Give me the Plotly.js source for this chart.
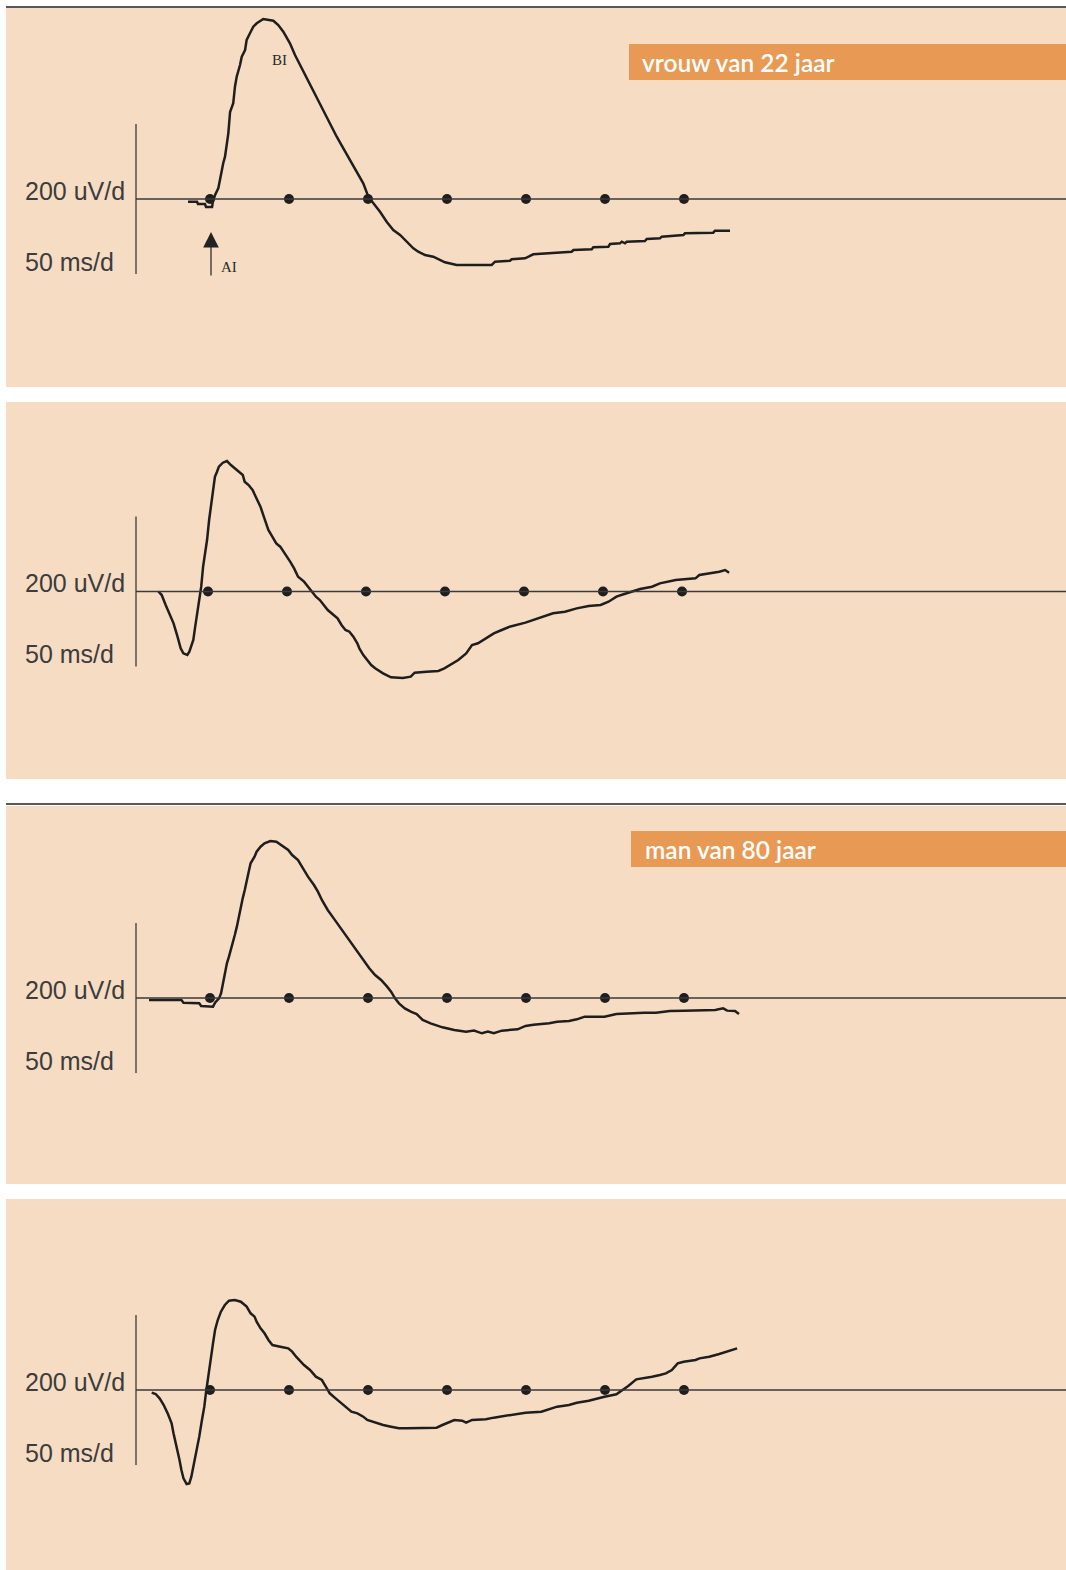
<!DOCTYPE html>
<html>
<head>
<meta charset="utf-8">
<script src="https://cdn.plot.ly/plotly-3.0.1.min.js"></script>
<style>
  html, body { margin: 0; padding: 0; background: #ffffff; }
  #chart { width: 1066px; height: 1570px; }
</style>
</head>
<body>
<div id="chart"></div>
<script>
// ---------- DATA (time in ms after the first marker, amplitude in uV) ----------
const dotTimes = [0, 50, 100, 150, 200, 250, 300];
const dotValues = [0, 0, 0, 0, 0, 0, 0];

const scaleAmplitude = "200 uV/d";
const scaleTime = "50 ms/d";
const headerWoman = "vrouw van 22 jaar";
const headerMan = "man van 80 jaar";
const markA = "AI";
const markB = "BI";

// panel 1: woman, 22 years
const t1 = [-13.9,-8.2,-7.6,-3.2,-2.5,1.3,1.9,3.2,5.3,7.4,8.4,9.5,10.6,11.6,12.7,14.7,15.8,16.9,19.0,20.1,22.2,23.2,25.3,27.4,29.6,33.7,40.1,43.2,46.4,50.6,53.8,57.0,60.1,63.3,67.5,71.7,75.9,80.2,84.4,88.6,92.8,97.0,100.2,103.4,107.6,111.8,116.0,120.3,124.5,128.7,131.8,136.1,141.3,145.6,148.7,156.1,178.3,180.4,189.9,190.9,199.4,204.6,215.2,228.9,230.0,241.6,242.6,252.1,253.2,259.5,260.6,262.7,263.7,275.3,276.4,284.8,285.9,299.6,300.6,318.5,319.6,329.1];
const v1 = [-6.8,-6.8,-12.7,-12.7,-20.3,-20.3,-5.1,10.1,27.8,73.4,91.1,107.1,132.4,166.3,220.3,242.3,284.3,309.6,339.2,360.2,377.2,402.8,419.5,436.2,444.8,455.7,451.4,440.5,423.5,394.2,364.6,339.2,313.9,288.6,259.0,225.3,191.6,157.7,128.4,98.7,69.1,39.7,5.8,-10.9,-32.2,-57.5,-78.5,-91.1,-108.1,-124.8,-133.4,-141.8,-146.1,-154.4,-160.3,-167.1,-167.1,-158.7,-156.2,-152.7,-150.1,-140.0,-137.5,-133.4,-129.1,-127.3,-122.3,-120.8,-113.9,-112.2,-108.1,-112.2,-108.1,-106.3,-101.3,-99.5,-95.4,-91.1,-86.8,-85.3,-80.3,-80.3];

// panel 2: woman, 22 years (second recording)
const t2 = [-31.4,-29.3,-26.8,-24.3,-21.8,-19.3,-17.3,-15.6,-13.1,-11.8,-9.3,-8.1,-6.8,-5.6,-4.8,-4.3,-3.1,-1.8,-0.6,0.7,1.9,3.2,4.4,5.7,6.9,9.4,12.0,14.5,18.2,22.0,23.2,25.7,28.2,30.7,33.2,35.7,38.2,40.7,43.2,45.7,49.5,52.0,54.5,57.0,60.8,63.3,65.8,68.3,70.8,73.3,75.8,79.5,82.0,84.5,87.0,89.5,92.0,94.5,95.8,98.3,100.8,103.3,105.8,110.8,115.8,123.3,128.3,130.8,138.3,145.8,149.6,153.4,158.4,163.4,167.1,170.9,175.9,180.9,185.9,190.9,200.9,205.9,213.4,218.4,225.9,233.4,240.9,248.5,253.5,258.5,263.5,268.5,273.5,281.0,286.0,296.0,308.5,311.0,318.6,323.6,327.3,329.8];
const v2 = [0,-8.9,-34.2,-55.3,-80.6,-114.4,-143.9,-156.6,-160.8,-152.4,-122.8,-89.1,-55.3,-13.1,-0.5,12.2,62.8,96.6,130.3,181.0,214.7,256.9,290.7,303.3,316.0,326.1,330.3,320.2,307.5,294.9,278.0,269.6,256.9,235.8,214.7,185.2,155.7,138.8,121.9,113.5,92.4,75.5,58.6,37.5,24.9,12.2,-0.5,-13.1,-21.6,-34.2,-46.9,-59.5,-68.0,-84.8,-97.5,-101.7,-114.4,-131.2,-143.9,-160.8,-173.5,-186.1,-194.5,-207.2,-217.3,-219.0,-215.7,-205.5,-203.0,-201.3,-194.5,-186.1,-173.5,-156.6,-135.5,-131.2,-118.6,-106.0,-97.5,-89.1,-78.9,-72.2,-62.1,-55.3,-51.1,-42.7,-36.7,-34.2,-25.8,-13.1,-6.4,-0.5,6.3,12.2,20.6,29.1,33.3,41.7,46.0,50.2,54.4,47.6];

// panel 3: man, 80 years
const t3 = [-38.6,-18.1,-16.8,-6.8,-5.6,-1.8,1.9,3.2,5.7,7.0,8.2,9.4,10.7,12.0,13.2,14.5,15.7,17.0,18.2,19.5,20.7,22.0,23.2,24.5,25.7,28.2,29.5,32.0,34.5,38.2,42.0,45.7,49.5,52.0,55.7,58.2,62.0,65.8,68.3,70.8,74.5,78.3,82.0,85.8,89.5,93.3,97.0,100.8,104.5,108.3,112.1,114.6,117.1,119.6,123.3,127.1,130.8,134.6,139.6,147.1,154.6,162.1,167.1,172.1,175.9,179.6,184.7,194.7,199.7,204.7,214.7,219.7,227.2,232.2,237.2,249.7,257.2,264.7,274.8,282.3,291.0,299.8,312.3,319.8,324.8,327.3,332.3,334.8];
const v3 = [-5.1,-5.1,-11.8,-13.5,-20.3,-22.0,-22.0,-11.8,-0.9,11.8,37.1,62.4,87.7,104.6,121.5,138.4,159.5,180.6,205.9,231.2,252.3,273.4,298.7,319.8,340.9,357.8,370.4,383.1,391.5,397.4,395.7,384.8,374.7,362.0,349.4,332.5,307.2,286.0,269.2,248.1,222.8,201.6,180.6,159.5,138.4,117.3,96.2,75.1,58.2,45.6,28.7,16.0,-0.9,-13.5,-26.2,-34.6,-40.5,-55.6,-64.1,-74.2,-81.0,-85.2,-82.6,-89.4,-85.2,-89.4,-82.6,-79.3,-70.8,-67.5,-64.1,-59.9,-58.2,-54.0,-47.2,-47.2,-40.5,-38.8,-37.1,-37.1,-32.9,-32.0,-32.0,-30.4,-26.2,-32.0,-32.9,-40.5];

// panel 4: man, 80 years (second recording)
const t4 = [-36.9,-34.4,-31.9,-29.3,-26.8,-24.3,-23.1,-21.1,-19.3,-18.1,-16.8,-14.8,-13.1,-11.8,-10.6,-8.6,-6.8,-5.1,-3.6,-2.6,-1.8,-0.6,0.7,1.9,3.2,4.9,6.9,9.4,12.0,15.7,19.5,23.2,25.7,28.2,29.5,32.0,34.5,37.0,39.5,44.5,49.5,52.0,54.5,59.5,63.3,67.0,70.8,73.3,75.8,79.5,84.5,89.5,93.3,97.0,99.5,104.5,109.6,114.6,119.6,124.6,134.6,143.4,147.1,150.9,154.6,159.6,162.1,165.9,174.6,179.6,189.7,199.7,209.7,214.7,219.7,227.2,232.2,239.7,244.7,249.7,257.2,262.2,264.7,269.8,274.8,279.8,284.8,288.5,292.3,296.0,299.8,307.3,309.8,316.0,322.3,327.3,331.1,333.6];
const v4 = [-6.7,-10.1,-21.1,-38.0,-59.1,-84.4,-109.7,-143.5,-177.2,-202.5,-223.6,-238.0,-236.3,-219.4,-194.1,-160.3,-118.1,-75.9,-42.2,-8.4,16.9,50.6,84.4,118.2,151.9,177.2,198.3,215.2,226.2,227.9,223.6,211.0,194.1,185.7,173.0,156.1,143.5,126.6,113.9,109.7,105.5,97.1,84.4,63.3,50.6,33.8,25.3,8.4,-8.4,-21.1,-38.0,-54.8,-59.1,-67.5,-75.9,-82.7,-88.6,-92.8,-97.0,-97.0,-97.0,-95.3,-88.6,-82.7,-75.9,-77.6,-82.7,-75.9,-74.2,-70.0,-63.3,-57.4,-54.8,-48.9,-42.2,-38.0,-32.1,-27.0,-21.1,-16.9,-11.0,1.7,10.1,27.0,29.5,33.8,38.0,42.2,50.6,67.5,71.7,75.9,80.1,84.4,91.1,97.1,101.3,105.5];

// ---------- LAYOUT (pixel geometry of the page) ----------
const W = 1066, H = 1570;
const PX_PER_MS = 1.58;          // 50 ms per 79 px
const UV_PER_PX = 200 / 79;      // 200 uV per 79 px
const LEFT = 6;                  // left edge of the coloured panels
const AXIS_X = 136;              // vertical scale bar
const BG = '#f6dcc3';
const INK = '#1e1e1e';

const panels = [
  { top: 8,    bottom: 387,  base: 199,   x0: 210, t: t1, v: v1, header: headerWoman, topRule: 7,   box: [629, 44, 80],  textX: 640 },
  { top: 402,  bottom: 779,  base: 591.5, x0: 208, t: t2, v: v2 },
  { top: 806,  bottom: 1184, base: 998,   x0: 210, t: t3, v: v3, header: headerMan,   topRule: 804, box: [631, 831, 867], textX: 643 },
  { top: 1199, bottom: 1570, base: 1390,  x0: 210, t: t4, v: v4 }
];

const px2ms = (px, p) => (px - p.x0) / PX_PER_MS;
const py2uv = (py, p) => (p.base - py) * UV_PER_PX;
const xp = px => px / W;
const yp = py => 1 - py / H;

const data = [];
const layout = {
  width: W, height: H,
  margin: { l: 0, r: 0, t: 0, b: 0, pad: 0 },
  paper_bgcolor: '#ffffff',
  plot_bgcolor: BG,
  showlegend: false,
  hovermode: false,
  shapes: [],
  annotations: []
};

panels.forEach((p, i) => {
  const n = i + 1;
  const xa = 'x' + (n === 1 ? '' : n);
  const ya = 'y' + (n === 1 ? '' : n);
  const xr = [px2ms(LEFT, p), px2ms(W, p)];
  const yr = [py2uv(p.bottom, p), py2uv(p.top, p)];
  layout['xaxis' + (n === 1 ? '' : n)] = {
    domain: [LEFT / W, 1], range: xr, visible: false, fixedrange: true, anchor: ya
  };
  layout['yaxis' + (n === 1 ? '' : n)] = {
    domain: [1 - p.bottom / H, 1 - p.top / H], range: yr, visible: false, fixedrange: true, anchor: xa
  };

  // baseline
  layout.shapes.push({ type: 'line', xref: xa, yref: ya,
    x0: px2ms(AXIS_X, p), x1: xr[1], y0: 0, y1: 0,
    line: { color: '#3a3a3a', width: 1.3 } });
  // vertical scale bar
  layout.shapes.push({ type: 'line', xref: xa, yref: ya,
    x0: px2ms(AXIS_X, p), x1: px2ms(AXIS_X, p),
    y0: -75 * UV_PER_PX, y1: 75 * UV_PER_PX,
    line: { color: '#3a3a3a', width: 1.3 } });

  // marker dots
  data.push({ type: 'scatter', mode: 'markers', x: dotTimes, y: dotValues,
    xaxis: xa, yaxis: ya,
    marker: { color: INK, size: 10 } });
  // waveform
  data.push({ type: 'scatter', mode: 'lines', x: p.t, y: p.v,
    xaxis: xa, yaxis: ya,
    line: { color: INK, width: 2.5 } });

  // scale labels
  layout.annotations.push({ xref: 'paper', yref: 'paper',
    x: xp(23), y: yp(p.base - 8.5), xanchor: 'left', yanchor: 'middle',
    text: scaleAmplitude, showarrow: false,
    font: { family: 'Liberation Sans, Arial, sans-serif', size: 25, color: '#3c3c3c' } });
  layout.annotations.push({ xref: 'paper', yref: 'paper',
    x: xp(23), y: yp(p.base + 62.5), xanchor: 'left', yanchor: 'middle',
    text: scaleTime, showarrow: false,
    font: { family: 'Liberation Sans, Arial, sans-serif', size: 25, color: '#3c3c3c' } });

  if (p.topRule !== undefined) {
    layout.shapes.push({ type: 'line', xref: 'paper', yref: 'paper',
      x0: xp(LEFT), x1: 1, y0: yp(p.topRule), y1: yp(p.topRule),
      line: { color: '#585858', width: 2 } });
  }
  if (p.header) {
    layout.shapes.push({ type: 'rect', xref: 'paper', yref: 'paper',
      x0: xp(p.box[0]), x1: 1, y0: yp(p.box[2]), y1: yp(p.box[1]),
      fillcolor: '#e89a55', line: { width: 0 } });
    layout.annotations.push({ xref: 'paper', yref: 'paper',
      x: xp(p.textX), y: yp((p.box[1] + p.box[2]) / 2 + 0.5), xanchor: 'left', yanchor: 'middle',
      text: p.header, showarrow: false,
      font: { family: 'Lato, Open Sans, sans-serif', size: 24.5, color: '#ffffff', weight: 600 } });
  }
});

// AI arrow and BI label in panel 1
const p1 = panels[0];
layout.annotations.push({ xref: 'x', yref: 'y',
  x: px2ms(211, p1), y: py2uv(232, p1), ax: 0, ay: 45, axref: 'pixel', ayref: 'pixel',
  text: '', showarrow: true, arrowhead: 2, arrowsize: 2.6, arrowwidth: 1.2, arrowcolor: '#222' });
layout.annotations.push({ xref: 'x', yref: 'y',
  x: px2ms(219, p1), y: py2uv(267, p1), xanchor: 'left', yanchor: 'middle',
  text: markA, showarrow: false,
  font: { family: 'Liberation Serif, Times New Roman, serif', size: 15, color: '#2a2a2a' } });
layout.annotations.push({ xref: 'x', yref: 'y',
  x: px2ms(270, p1), y: py2uv(60, p1), xanchor: 'left', yanchor: 'middle',
  text: markB, showarrow: false,
  font: { family: 'Liberation Serif, Times New Roman, serif', size: 15, color: '#2a2a2a' } });

Plotly.newPlot('chart', data, layout, { staticPlot: true, displayModeBar: false });
</script>
</body>
</html>
